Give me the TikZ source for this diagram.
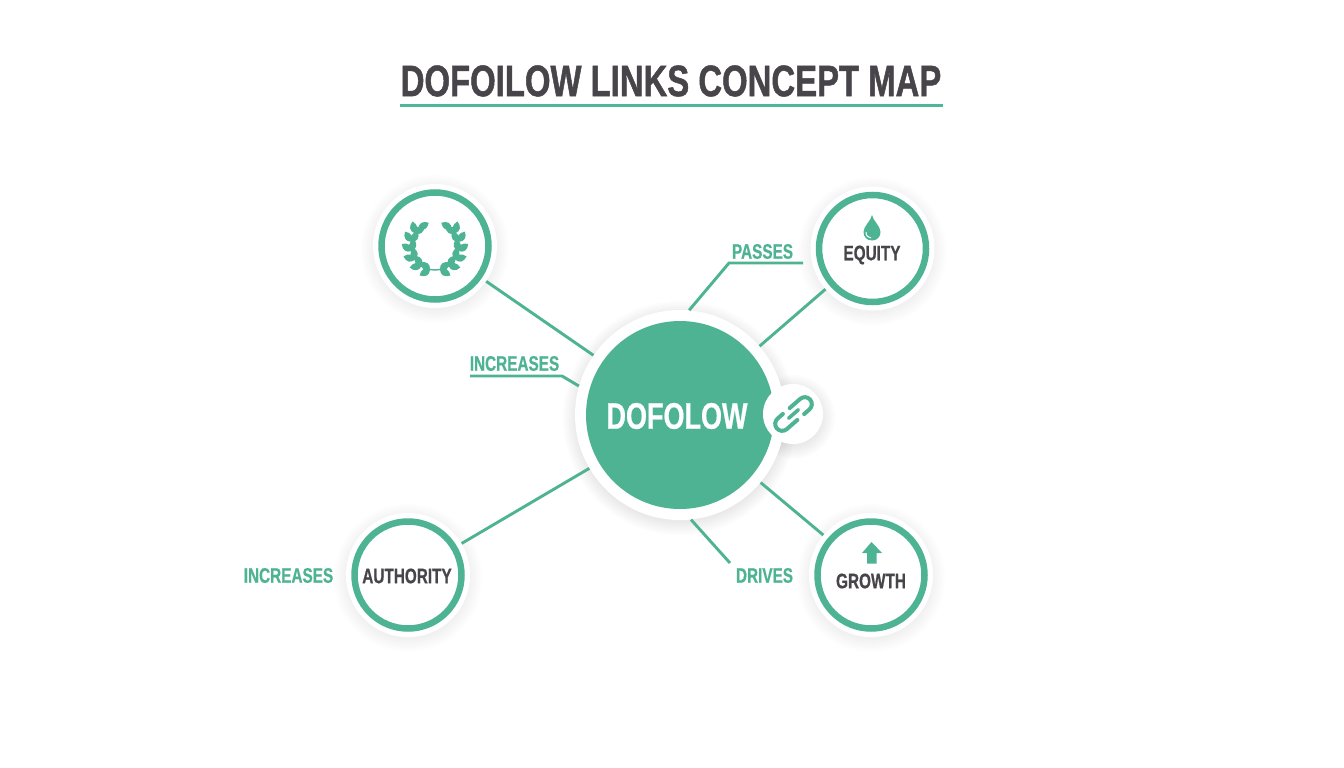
\documentclass[tikz,border=0pt]{standalone}
\usepackage{fontspec}
\usetikzlibrary{positioning}
\newfontfamily\mapfont[FakeStretch=0.73,FakeBold=0.6]{Liberation Sans Bold}
\newfontfamily\titlefont[FakeStretch=0.747,FakeBold=1.1]{Liberation Sans Bold}
\definecolor{mapgreen}{HTML}{4DB392}
\definecolor{mapteal}{HTML}{4DB899}
\definecolor{mapdark}{HTML}{47454A}
\tikzstyle{hub} = [circle, fill=white, minimum size=210pt, inner sep=0pt]
\tikzstyle{hubdisc} = [circle, fill=mapgreen, minimum size=188pt, inner sep=0pt]
\tikzstyle{satellite} = [circle, fill=white, minimum size=124pt, inner sep=0pt]
\tikzstyle{ring} = [circle, draw=mapgreen, line width=6.5pt, minimum size=107pt, inner sep=0pt]
\tikzstyle{ringtext} = [text=mapdark, inner sep=0pt, font=\mapfont\fontsize{21}{21}\selectfont]
\tikzstyle{badge} = [circle, fill=white, minimum size=60pt, inner sep=0pt]
\tikzstyle{linklabel} = [text=mapgreen, inner sep=0pt, font=\mapfont\fontsize{21}{21}\selectfont]
\tikzstyle{connector} = [draw=mapgreen, line width=2.9pt]
\newcommand{\softshadow}[4]{%
  \foreach \s in {0,2,...,12} {\fill[black, opacity=#4] (#1,#2+3) circle ({#3+\s});}}
\newcommand{\laurelleaf}[2]{%
  \fill[mapgreen, shift={({435+24*cos(#1)},{246+24*sin(#1)})}, rotate=#2] (0,0) .. controls (3,-4.8) and (8,-4.8) .. (12,0) .. controls (8,4.8) and (3,4.8) .. (0,0);}
\begin{document}
\begin{tikzpicture}[x=1pt,y=-1pt]
	\useasboundingbox (0,0) rectangle (1344,768);
	\fill[white] (0,0) rectangle (1344,768);
	% title
	\node[text=mapdark, inner sep=0pt, font=\titlefont\fontsize{44}{44}\selectfont] (title) at (671,81) {DOFOILOW LINKS CONCEPT MAP};
	\coordinate (ruleleft) at (400,105.5);
	\coordinate (ruleright) at (943,105.5);
	\draw[mapteal, line width=3.6pt] (ruleleft) -- (ruleright);
	% shadows
	\softshadow{680}{415}{105}{0.012}
	\softshadow{793}{414}{30}{0.010}
	\softshadow{435}{246}{62}{0.006}
	\softshadow{872.5}{248.5}{62}{0.006}
	\softshadow{871}{575}{62}{0.006}
	\softshadow{408}{575}{62}{0.006}
	% nodes
	\node[satellite] (laurel) at (435,246) {};
	\node[satellite] (equity) at (872.5,248.5) {};
	\node[satellite] (growth) at (871,575) {};
	\node[satellite] (authority) at (408,575) {};
	\node[hub] (dofollow) at (680,415) {};
	% connectors
	\draw[connector] (laurel) -- (dofollow);
	\draw[connector] (equity) -- (dofollow);
	\draw[connector] (growth) -- (dofollow);
	\draw[connector] (authority) -- (dofollow);
	\node[hubdisc] (dofollowdisc) at (dofollow) {};
	\node[text=white, inner sep=0pt, font=\mapfont\fontsize{37}{37}\selectfont] (dofollowtext) at (677,416) {DOFOLOW};
	\node[ring] (laurelring) at (laurel) {};
	\node[ring] (equityring) at (equity) {};
	\node[ring] (growthring) at (growth) {};
	\node[ring] (authorityring) at (authority) {};
	\node[ringtext] (equitytext) at (872,255) {EQUITY};
	\node[ringtext] (growthtext) at (871,581) {GROWTH};
	\node[ringtext] (authoritytext) at (407,576) {AUTHORITY};
	% labels
	\node[linklabel] (increasestop) at (514.5,363.5) {INCREASES};
	\node[linklabel] (passes) at (762.5,251.5) {PASSES};
	\node[linklabel] (drives) at (764.5,575.5) {DRIVES};
	\node[linklabel] (increasesleft) at (288.5,575.5) {INCREASES};
	\coordinate (increasesbendstart) at (470,376);
	\coordinate (increasesbend) at (562,376);
	\coordinate (passesend) at (803,263);
	\coordinate (passesbend) at (729,263);
	\coordinate (drivesend) at (730,563);
	\draw[connector] (increasesbendstart) -- (increasesbend) -- (dofollow.164.5);
	\draw[connector] (passesend) -- (passesbend) -- (dofollow.85.7);
	\draw[connector] (drivesend) -- (dofollow.-84.6);
	% link badge
	\node[badge] (linkbadge) at (793,414) {};
	\begin{scope}[shift={(793.5,414)}, rotate=41, line cap=round]
		\draw[mapgreen, line width=4pt] (1,-7) -- (15,-7) arc[start angle=-90, end angle=90, radius=7] -- (8,7);
		\draw[mapgreen, line width=4pt] (-1,7) -- (-15,7) arc[start angle=90, end angle=270, radius=7] -- (-8,-7);
		\draw[mapgreen, line width=3.6pt] (-6.5,0) -- (6.5,0);
	\end{scope}
	% laurel icon
	\foreach \a in {102,124,...,212} {
		\laurelleaf{\a}{270-\a+42}
		\laurelleaf{\a}{270-\a-24}
	}
	\foreach \a in {78,56,...,-32} {
		\laurelleaf{\a}{90-\a-42}
		\laurelleaf{\a}{90-\a+24}
	}
	\laurelleaf{226}{30}
	\laurelleaf{-46}{150}
	\draw[mapgreen, line width=1.4pt] (435,270) arc[start angle=90, end angle=226, radius=24];
	\draw[mapgreen, line width=1.4pt] (435,270) arc[start angle=90, end angle=-46, radius=24];
	% drop icon
	\fill[mapgreen] (872,215) .. controls (873,221) and (880.5,226) .. (880.5,232) .. controls (880.5,237) and (877,240.5) .. (872,240.5) .. controls (867,240.5) and (863.5,237) .. (863.5,232) .. controls (863.5,226) and (871,221) .. (872,215);
	\draw[white, line width=1pt] (866,232) .. controls (866,235.5) and (868,238) .. (871,238);
	% growth arrow
	\fill[mapgreen] (871.5,542) -- (882,553) -- (876.5,553) -- (876.5,563.5) -- (867,563.5) -- (867,553) -- (862,553) -- cycle;
\end{tikzpicture}
\end{document}
